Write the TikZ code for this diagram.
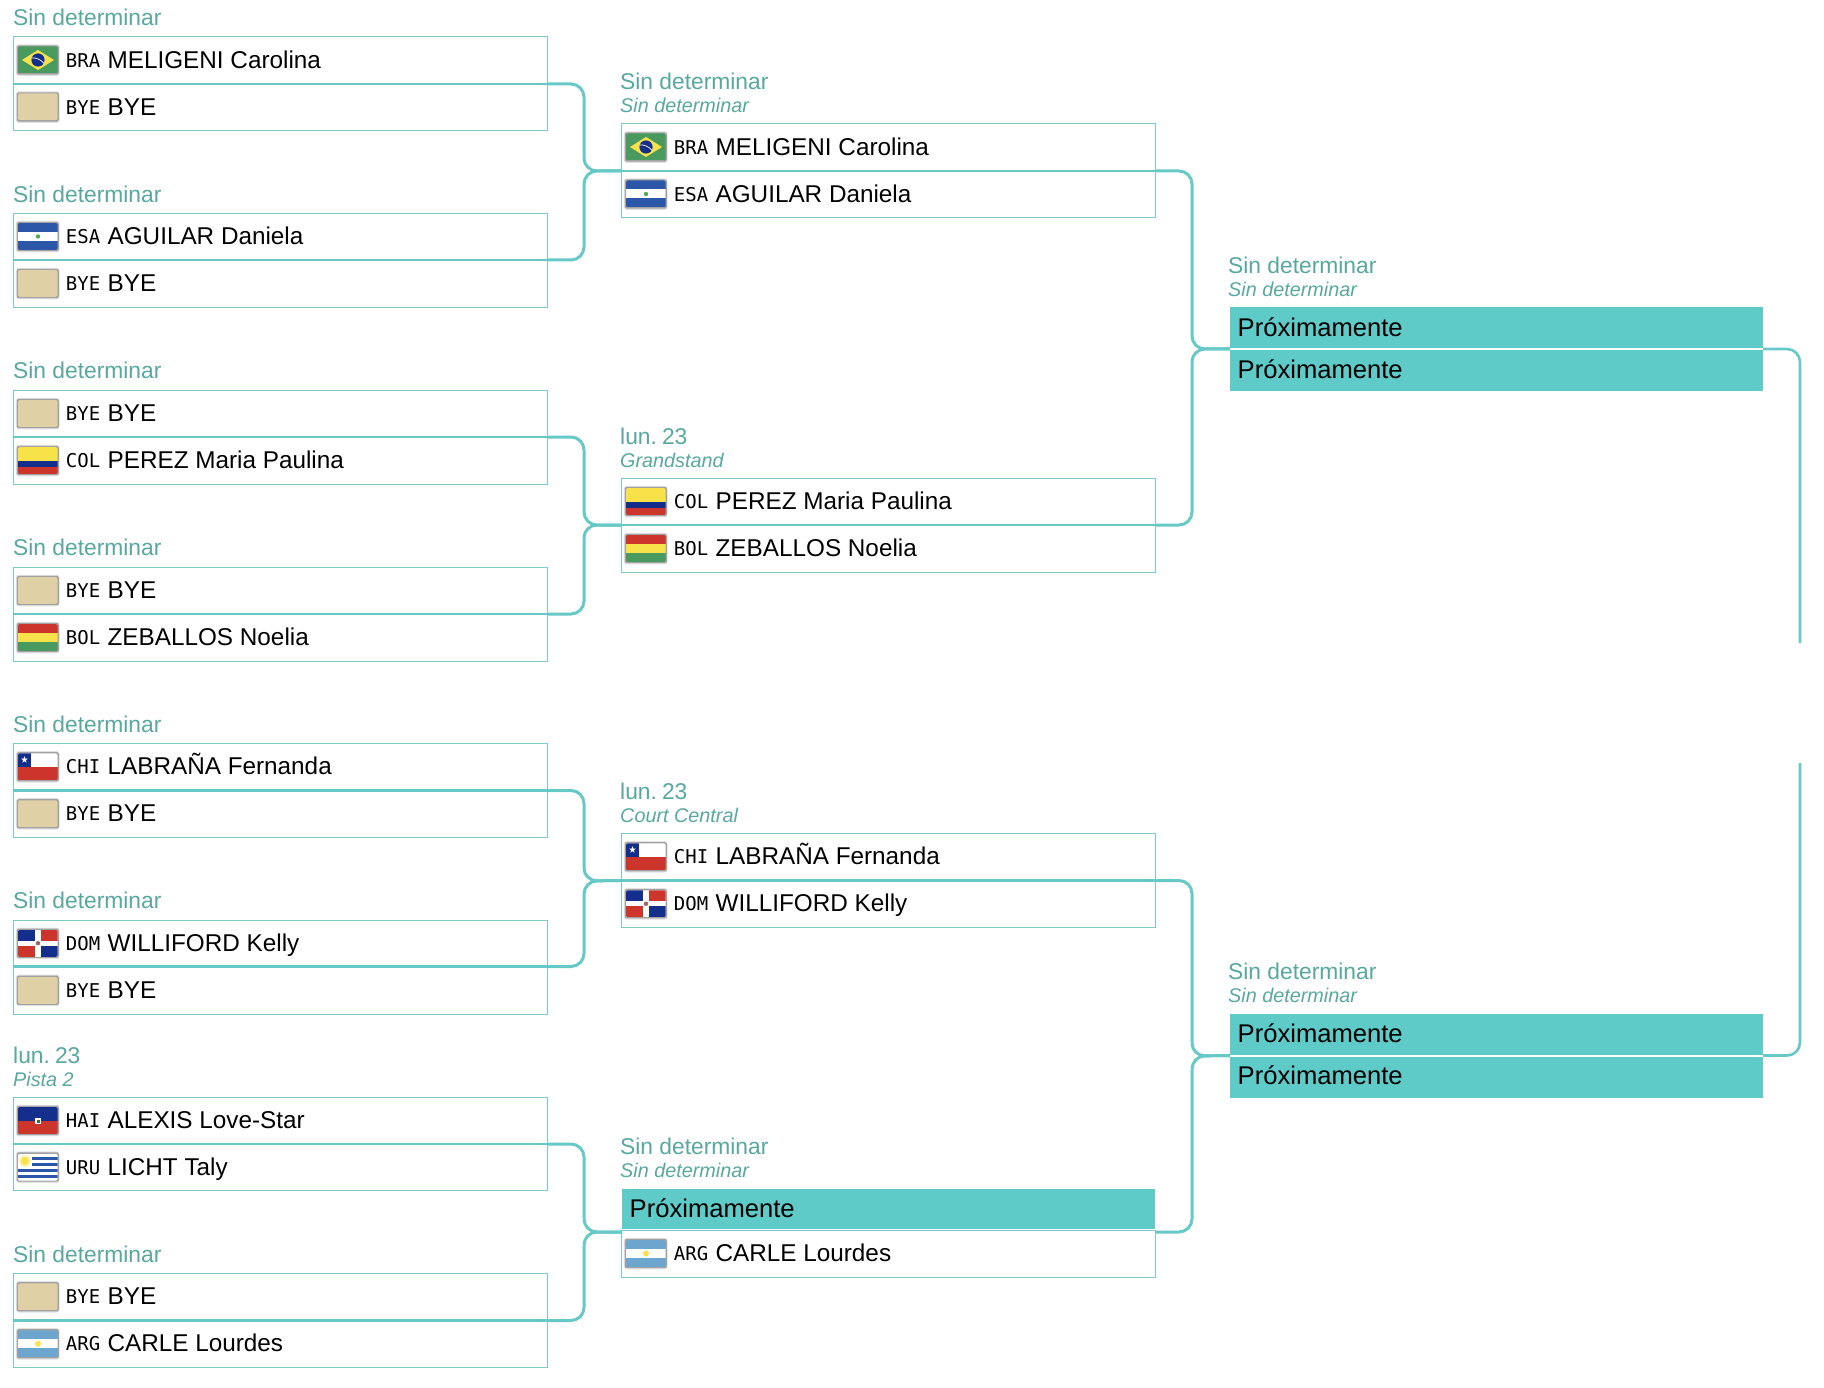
\documentclass[tikz,border=0pt]{standalone}
\usepackage{fontspec}
\setmainfont{Liberation Sans}
\newfontfamily\codefont{DejaVu Sans Mono}
\definecolor{boxline}{HTML}{7FCAC8}
\definecolor{joinline}{HTML}{66C9C7}
\definecolor{tealfill}{HTML}{5FCBC8}
\definecolor{labeltxt}{HTML}{58A89F}
\definecolor{byetan}{HTML}{DFD0A5}
\definecolor{fgreen}{HTML}{4A9A60}
\definecolor{fyellow}{HTML}{F8E24A}
\definecolor{fblue}{HTML}{142E8C}
\definecolor{fmidblue}{HTML}{2C56A8}
\definecolor{fred}{HTML}{CC352C}
\definecolor{fsky}{HTML}{6CA6CF}
\tikzset{
  rowbox/.style={draw=boxline,line width=.85pt,fill=white,anchor=north west,minimum width=534pt,inner sep=0pt,outer sep=0pt},
  tealbox/.style={fill=tealfill,anchor=north west,minimum width=533pt,inner sep=0pt,outer sep=0pt},
  midline/.style={draw=joinline,line width=2.4pt},
  gapline/.style={draw=white,line width=2pt},
  conn/.style={draw=joinline,line width=3pt,rounded corners=13pt},
  codetxt/.style={anchor=base west,inner sep=0pt,font=\codefont\fontsize{19}{21}\selectfont,text=black},
  nametxt/.style={anchor=base west,inner sep=0pt,font=\fontsize{24.3}{26}\selectfont,text=black},
  soontxt/.style={anchor=base west,inner sep=0pt,font=\fontsize{25.6}{28}\selectfont,text=black},
  headtxt/.style={anchor=base west,inner sep=0pt,font=\fontsize{22.8}{26}\selectfont,text=labeltxt},
  subtxt/.style={anchor=base west,inner sep=0pt,font=\itshape\fontsize{19.8}{22}\selectfont,text=labeltxt},
}
% flag frame: 40 x 27 with a soft edge
\newcommand\flagat[3]{%
  \begin{scope}[shift={({#1},{#2})}]
    \fill[black,opacity=.12,rounded corners=3pt] (-2.2,-2.2) rectangle (41.6,29.4);
    \fill[black,opacity=.28,rounded corners=2pt] (-1.1,-1.1) rectangle (40.8,28.2);
    \begin{scope}
      \clip[rounded corners=1.5pt] (0,0) rectangle (39.5,27);
      #3
    \end{scope}
  \end{scope}}
\newcommand\flagBYE{\fill[byetan] (0,0) rectangle (40,27);}
\newcommand\flagBRA{\fill[fgreen] (0,0) rectangle (40,27);
  \fill[fyellow] (4,13.5) -- (20,3.5) -- (36,13.5) -- (20,23.5) -- cycle;
  \fill[fblue] (20,13.5) circle (6.6);
  \draw[white,line width=.7pt] (13.8,11.5) .. controls (18,11) and (23,13) .. (26,17);}
\newcommand\flagESA{\fill[fmidblue] (0,0) rectangle (40,27);
  \fill[white] (0,9) rectangle (40,18);
  \fill[green!35!gray] (20,13.5) circle (2.2);}
\newcommand\flagCOL{\fill[fyellow] (0,0) rectangle (40,13.5);
  \fill[fblue] (0,13.5) rectangle (40,20.25);
  \fill[fred] (0,20.25) rectangle (40,27);}
\newcommand\flagBOL{\fill[fred] (0,0) rectangle (40,9);
  \fill[fyellow] (0,9) rectangle (40,18);
  \fill[fgreen] (0,18) rectangle (40,27);}
\newcommand\flagCHI{\fill[white] (0,0) rectangle (40,13.5);
  \fill[fred] (0,13.5) rectangle (40,27);
  \fill[fblue] (0,0) rectangle (13,13.5);
  \fill[white] (6.5,3) -- (7.32,5.37) -- (9.83,5.42) -- (7.83,6.93) -- (8.56,9.33) -- (6.5,7.9) -- (4.44,9.33) -- (5.17,6.93) -- (3.17,5.42) -- (5.68,5.37) -- cycle;}
\newcommand\flagDOM{\fill[white] (0,0) rectangle (40,27);
  \fill[fblue] (0,0) rectangle (17,11); \fill[fred] (23,0) rectangle (40,11);
  \fill[fred] (0,16) rectangle (17,27); \fill[fblue] (23,16) rectangle (40,27);
  \fill[gray!80!red] (20,13.5) circle (2.2);}
\newcommand\flagHAI{\fill[fblue] (0,0) rectangle (40,13.5);
  \fill[fred] (0,13.5) rectangle (40,27);
  \fill[white] (17,10.5) rectangle (23,16.5);
  \fill[fgreen!70!black] (18.5,13) rectangle (21.5,16);}
\newcommand\flagURU{\fill[white] (0,0) rectangle (40,27);
  \fill[fmidblue] (14,3) rectangle (40,6);
  \fill[fmidblue] (14,9) rectangle (40,12);
  \fill[fmidblue] (0,15) rectangle (40,18);
  \fill[fmidblue] (0,21) rectangle (40,24);
  \fill[fyellow!40!white] (7,7.5) circle (6);
  \fill[fyellow] (7,7.5) circle (4);}
\newcommand\flagARG{\fill[fsky] (0,0) rectangle (40,27);
  \fill[white] (0,9) rectangle (40,18);
  \fill[fyellow] (20,13.5) circle (3);}
% one player row: id, left x, top y, bottom y, flag, code, name
\newcommand\Row[7]{%
  \node[rowbox,minimum height={(#4-#3)*1pt}] (#1) at (#2,#3) {};
  \pgfmathsetmacro\rc{(#3+#4)/2}
  \flagat{#2+5}{\rc-13.5}{#5}
  \node[codetxt] (#1-c) at ({#2+52.7},{\rc+7.2}) {#6};
  \node[nametxt] (#1-p) at ({#2+94.4},{\rc+8.1}) {#7};
}
% teal "coming soon" row: id, left x, top y, bottom y
\newcommand\Soon[4]{%
  \node[tealbox,minimum height={(#4-#3)*1pt}] (#1) at (#2,#3) {};
  \node[soontxt] (#1-p) at ({#2+7.5},{(#3+#4)/2+8.3}) {Próximamente};
}
\newcommand\Mid[1]{\draw[midline] (#1.south west) -- (#1.south east);}
\newcommand\Gap[1]{\draw[gapline] (#1.south west) -- (#1.south east);}
% heading: id, x, baseline y, text
\newcommand\Head[4]{\node[headtxt] (#1) at (#2,#3) {#4};}
\newcommand\HeadTwo[5]{%
  \node[headtxt] (#1) at (#2,{#3-33.7}) {#4};
  \node[subtxt] (#1s) at (#2,{#3-10.7}) {#5};}
\newcommand\Lun{{\spaceskip=3pt\relax lun. 23}}
\begin{document}
\begin{tikzpicture}[x=1pt,y=-1pt]
\useasboundingbox (0,0) rectangle (1824,1388);
\fill[white] (0,0) rectangle (1824,1388);
% ---------- coordinates of the bracket joints
\coordinate (j1) at (584,171);
\coordinate (j2) at (584,525);
\coordinate (j3) at (584,881);
\coordinate (j4) at (584,1232);
\coordinate (k1) at (1192,349);
\coordinate (k2) at (1192,1056);
\coordinate (z1) at (1800,643);
\coordinate (z2) at (1800,763);
\coordinate (m4w) at (622,1232);
\coordinate (m4e) at (1156,1232);
% ---------- first column
\Head{h1}{13}{26}{Sin determinar}
\Row{a1}{13}{36}{84}{\flagBRA}{BRA}{MELIGENI Carolina}
\Row{a1b}{13}{84}{130}{\flagBYE}{BYE}{BYE}
\Head{h2}{13}{203}{Sin determinar}
\Row{a2}{13}{213}{260}{\flagESA}{ESA}{AGUILAR Daniela}
\Row{a2b}{13}{260}{307}{\flagBYE}{BYE}{BYE}
\Head{h3}{13}{378.5}{Sin determinar}
\Row{a3}{13}{390}{437}{\flagBYE}{BYE}{BYE}
\Row{a3b}{13}{437}{484}{\flagCOL}{COL}{PEREZ Maria Paulina}
\Head{h4}{13}{555.5}{Sin determinar}
\Row{a4}{13}{567}{614}{\flagBYE}{BYE}{BYE}
\Row{a4b}{13}{614}{661}{\flagBOL}{BOL}{ZEBALLOS Noelia}
\Head{h5}{13}{732}{Sin determinar}
\Row{a5}{13}{743}{790.5}{\flagCHI}{CHI}{LABRAÑA Fernanda}
\Row{a5b}{13}{790.5}{837}{\flagBYE}{BYE}{BYE}
\Head{h6}{13}{908.5}{Sin determinar}
\Row{a6}{13}{920}{966.5}{\flagDOM}{DOM}{WILLIFORD Kelly}
\Row{a6b}{13}{966.5}{1014}{\flagBYE}{BYE}{BYE}
\HeadTwo{h7}{13}{1097}{\Lun}{Pista 2}
\Row{a7}{13}{1097}{1144}{\flagHAI}{HAI}{ALEXIS Love-Star}
\Row{a7b}{13}{1144}{1190}{\flagURU}{URU}{LICHT Taly}
\Head{h8}{13}{1262}{Sin determinar}
\Row{a8}{13}{1273}{1320.5}{\flagBYE}{BYE}{BYE}
\Row{a8b}{13}{1320.5}{1367}{\flagARG}{ARG}{CARLE Lourdes}
% ---------- second column
\HeadTwo{g1}{620}{123}{Sin determinar}{Sin determinar}
\Row{m1}{621}{123}{171}{\flagBRA}{BRA}{MELIGENI Carolina}
\Row{m1b}{621}{171}{217}{\flagESA}{ESA}{AGUILAR Daniela}
\HeadTwo{g2}{620}{478}{\Lun}{Grandstand}
\Row{m2}{621}{478}{525}{\flagCOL}{COL}{PEREZ Maria Paulina}
\Row{m2b}{621}{525}{572}{\flagBOL}{BOL}{ZEBALLOS Noelia}
\HeadTwo{g3}{620}{833}{\Lun}{Court Central}
\Row{m3}{621}{833}{880.5}{\flagCHI}{CHI}{LABRAÑA Fernanda}
\Row{m3b}{621}{880.5}{927}{\flagDOM}{DOM}{WILLIFORD Kelly}
\HeadTwo{g4}{620}{1188}{Sin determinar}{Sin determinar}
\Soon{m4}{622}{1189}{1229}
\Row{m4b}{621}{1230}{1277}{\flagARG}{ARG}{CARLE Lourdes}
% ---------- third column
\HeadTwo{f1}{1228}{307}{Sin determinar}{Sin determinar}
\Soon{r1}{1230}{307}{349}
\Soon{r1b}{1230}{349}{391}
\HeadTwo{f2}{1228}{1013}{Sin determinar}{Sin determinar}
\Soon{r2}{1230}{1013.5}{1055.5}
\Soon{r2b}{1230}{1055.5}{1097.5}
% ---------- row dividers
\foreach \r in {a1,a2,a3,a4,a5,a6,a7,a8,m1,m2,m3}{\Mid{\r}}
\Gap{r1}
\Gap{r2}
% ---------- brackets
\draw[conn] (a1.south east) -| (j1) -- (m1.south west);
\draw[conn] (a2.south east) -| (j1) -- (m1.south west);
\draw[conn] (a3.south east) -| (j2) -- (m2.south west);
\draw[conn] (a4.south east) -| (j2) -- (m2.south west);
\draw[conn] (a5.south east) -| (j3) -- (m3.south west);
\draw[conn] (a6.south east) -| (j3) -- (m3.south west);
\draw[conn] (a7.south east) -| (j4) -- (m4w);
\draw[conn] (a8.south east) -| (j4) -- (m4w);
\draw[conn] (m1.south east) -| (k1) -- (r1.south west);
\draw[conn] (m2.south east) -| (k1) -- (r1.south west);
\draw[conn] (m3.south east) -| (k2) -- (r2.south west);
\draw[conn] (m4e) -| (k2) -- (r2.south west);
\draw[conn,line width=2.6pt] (r1.south east) -| (z1);
\draw[conn,line width=2.6pt] (r2.south east) -| (z2);
\end{tikzpicture}
\end{document}
